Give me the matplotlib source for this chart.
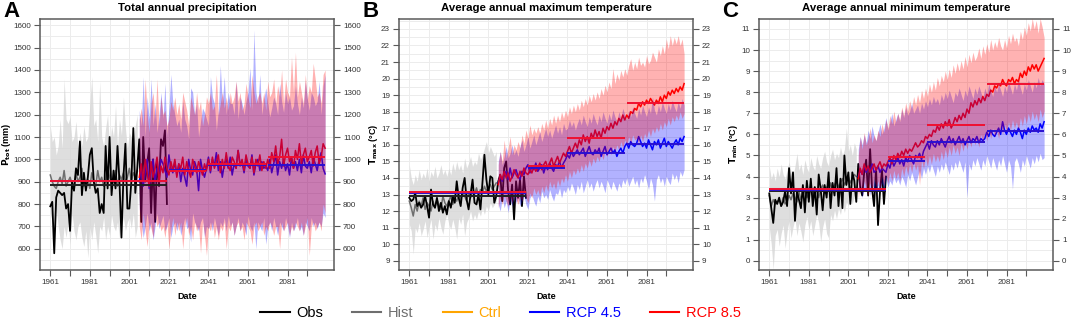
import matplotlib.pyplot as plt
from matplotlib.lines import Line2D
from matplotlib.ticker import MultipleLocator

plt.rcParams['font.family'] = ['Liberation Sans', 'DejaVu Sans']

obs_years = list(range(1961, 2021))
hist_years = list(range(1961, 2006))
rcp_years = list(range(2006, 2101))
periods = [(1961, 2020), (2021, 2040), (2041, 2070), (2071, 2100)]

# ---------------- A: total annual precipitation (mm) ----------------
ptot_obs = [790, 810, 580, 830, 860, 850, 840, 850, 780, 800,
            680, 900, 860, 960, 930, 1080, 840, 940, 860, 920,
            1020, 1050, 900, 850, 870, 760, 800, 760, 1060, 870,
            1100, 840, 950, 870, 1060, 900, 650, 920, 1070, 780,
            780, 900, 1140, 850, 960, 1090, 720, 1100, 900, 980,
            1050, 760, 1000, 720, 1000, 880, 1090, 1060, 1130, 800]
ptot_hist = [930, 900, 880, 870, 900, 920, 890, 950, 880, 900,
             920, 890, 860, 940, 900, 920, 960, 880, 900, 910,
             870, 940, 900, 880, 950, 900, 920, 880, 900, 960,
             920, 890, 900, 950, 880, 930, 910, 940, 900, 920,
             960, 900, 940, 920, 950]
ptot_hist_lo = [760, 720, 650, 780, 700, 640, 600, 700, 650, 720,
                620, 760, 680, 640, 700, 720, 650, 610, 680, 560,
                700, 640, 720, 660, 580, 700, 680, 740, 640, 700,
                660, 750, 700, 680, 720, 650, 700, 740, 680, 720,
                740, 690, 760, 650, 700]
ptot_hist_hi = [1150, 1080, 1100, 1020, 1060, 1180, 1050, 1360, 1180, 1160,
                1190, 1080, 1100, 1170, 1050, 1120, 1060, 1150, 1080, 1100,
                1250, 1370, 1150, 1180, 1080, 1350, 1100, 1060, 1140, 1200,
                1050, 1150, 1100, 1240, 1060, 1180, 1110, 1280, 1140, 1050,
                1120, 1100, 1090, 1150, 1200]
ptot_rcp45 = [900, 960, 880, 940, 1000, 870, 950, 1000, 900, 960,
              940, 1000, 980, 950, 920, 1020, 960, 940, 990, 930,
              980, 900, 960, 920, 880, 1000, 950, 930, 990, 960,
              860, 1000, 950, 920, 960, 1010, 940, 1000, 970, 1030,
              950, 990, 920, 980, 1000, 960, 1010, 930, 980, 960,
              1040, 980, 990, 940, 1000, 970, 960, 1020, 930, 980,
              1000, 950, 990, 960, 970, 950, 1000, 940, 980, 1020,
              930, 990, 960, 1000, 950, 980, 930, 1010, 960, 990,
              950, 1000, 940, 1020, 970, 960, 990, 940, 1010, 980,
              950, 1000, 1030, 960, 935]
ptot_rcp85 = [920, 980, 900, 1000, 940, 880, 990, 920, 960, 1010,
              900, 970, 940, 1010, 960, 930, 990, 950, 1000, 920,
              980, 960, 1010, 930, 990, 950, 920, 1000, 970, 940,
              990, 960, 930, 980, 950, 1000, 950, 1010, 960, 990,
              1020, 940, 1000, 960, 1030, 970, 950, 1010, 990, 960,
              1040, 970, 1000, 950, 1020, 980, 960, 1010, 940, 1000,
              970, 1020, 950, 990, 960, 1000, 960, 1030, 990, 1060,
              980, 1010, 1090, 970, 1020, 1050, 990, 1010, 960, 1040,
              1000, 1070, 980, 1020, 1050, 990, 1010, 1040, 970, 1030,
              1060, 980, 1010, 1070, 1050]
ptot_rcp45_lo = [780, 720, 650, 700, 760, 680, 720, 640, 700, 760,
                 690, 720, 750, 680, 700, 740, 650, 700, 720, 680,
                 720, 660, 700, 740, 690, 700, 630, 760, 720, 700,
                 680, 720, 740, 650, 700, 690, 720, 680, 740, 700,
                 660, 720, 700, 740, 680, 750, 700, 720, 660, 700,
                 740, 680, 720, 700, 660, 750, 700, 680, 720, 600,
                 720, 700, 680, 740, 620, 700, 720, 680, 740, 700,
                 660, 720, 700, 680, 740, 700, 650, 720, 680, 700,
                 740, 680, 700, 660, 720, 700, 680, 740, 700, 720,
                 690, 720, 700, 760, 740]
ptot_rcp45_hi = [1220, 1150, 1370, 1100, 1280, 1180, 1360, 1150, 1250, 1120,
                 1200, 1300, 1180, 1340, 1110, 1230, 1380, 1250, 1200, 1150,
                 1180, 1120, 1260, 1180, 1150, 1090, 1320, 1300, 1200, 1250,
                 1100, 1170, 1230, 1210, 1180, 1150, 1370, 1280, 1250, 1130,
                 1220, 1420, 1250, 1370, 1200, 1300, 1250, 1250, 1200, 1350,
                 1180, 1280, 1250, 1200, 1260, 1300, 1410, 1220, 1580, 1300,
                 1250, 1380, 1200, 1270, 1320, 1250, 1190, 1230, 1280, 1250,
                 1200, 1340, 1260, 1210, 1300, 1250, 1280, 1220, 1240, 1330,
                 1250, 1200, 1280, 1230, 1350, 1270, 1220, 1300, 1280, 1240,
                 1260, 1350, 1200, 1330, 1380]
ptot_rcp85_lo = [700, 640, 760, 680, 610, 720, 690, 650, 740, 700,
                 720, 680, 700, 650, 720, 600, 690, 740, 660, 720,
                 680, 720, 600, 700, 740, 660, 700, 640, 720, 680,
                 700, 580, 720, 660, 570, 700, 680, 720, 650, 700,
                 640, 700, 680, 720, 600, 700, 680, 720, 660, 700,
                 720, 680, 700, 640, 720, 700, 680, 620, 700, 720,
                 680, 700, 720, 660, 700, 680, 720, 700, 660, 700,
                 700, 600, 720, 680, 700, 720, 660, 700, 680, 720,
                 700, 680, 720, 660, 700, 740, 570, 700, 720, 680,
                 700, 720, 680, 800, 760]
ptot_rcp85_hi = [1180, 1230, 1150, 1360, 1200, 1120, 1250, 1300, 1180, 1360,
                 1150, 1280, 1200, 1220, 1150, 1180, 1260, 1220, 1280, 1200,
                 1250, 1180, 1300, 1260, 1220, 1150, 1280, 1240, 1200, 1300,
                 1220, 1260, 1150, 1200, 1280, 1250, 1300, 1220, 1240, 1380,
                 1200, 1250, 1300, 1230, 1280, 1220, 1300, 1250, 1280, 1350,
                 1260, 1300, 1220, 1250, 1340, 1280, 1230, 1380, 1300, 1250,
                 1280, 1300, 1250, 1300, 1220, 1350, 1280, 1300, 1360, 1250,
                 1330, 1280, 1400, 1250, 1360, 1300, 1280, 1460, 1300, 1480,
                 1280, 1350, 1300, 1250, 1380, 1270, 1330, 1300, 1430, 1360,
                 1280, 1300, 1250, 1380, 1400]
ptot_obs_mean = 887
ptot_rcp45_means = [905, 953, 973, 975]
ptot_rcp85_means = [905, 950, 978, 1010]

# ---------------- B: average annual maximum temperature (°C) ----------------
tmax_obs = [12.8, 12.6, 12.7, 13.1, 12.3, 12.5, 12.2, 12.4, 12.9, 12.3,
            11.6, 13.3, 12.4, 12.2, 12.8, 12.0, 12.5, 11.9, 12.3, 11.8,
            12.6, 12.2, 12.9, 12.5, 13.8, 12.8, 12.3, 13.4, 14.0, 12.7,
            12.1, 13.0, 13.9, 12.5, 12.4, 13.0, 12.1, 13.7, 15.4, 13.9,
            13.0, 14.1, 14.0, 12.5, 12.9, 13.8, 14.2, 12.6, 14.6, 15.0,
            13.2, 12.4, 13.6, 11.5, 13.8, 12.8, 13.9, 12.3, 14.1, 12.8]
tmax_hist = [12.6, 12.2, 11.7, 12.4, 12.0, 12.6, 12.3, 12.8, 12.1, 12.5,
             12.3, 12.0, 12.6, 12.2, 12.7, 12.4, 12.1, 12.9, 12.5, 12.3,
             12.6, 12.9, 12.4, 12.8, 12.6, 13.0, 12.7, 13.2, 12.9, 12.6,
             13.1, 12.8, 13.2, 13.0, 13.4, 12.9, 13.3, 13.1, 13.5, 13.2,
             13.4, 13.6, 13.3, 13.5, 13.7]
tmax_hist_lo = [11.2, 10.8, 9.4, 11.0, 10.7, 11.3, 10.5, 10.9, 11.4, 10.4,
                11.0, 11.5, 10.3, 11.2, 10.8, 11.6, 11.0, 10.6, 11.4, 11.8,
                11.2, 10.9, 11.5, 11.0, 10.3, 11.6, 11.2, 11.8, 10.5, 11.3,
                11.6, 12.0, 11.4, 11.8, 11.5, 12.0, 11.7, 12.2, 11.8, 12.3,
                12.0, 12.5, 12.2, 12.4, 12.6]
tmax_hist_hi = [14.8, 14.0, 13.6, 14.2, 13.8, 14.5, 13.9, 14.3, 14.0, 14.6,
                13.8, 14.4, 14.1, 14.7, 14.0, 14.3, 14.8, 14.2, 14.5, 14.1,
                14.6, 14.2, 14.9, 14.4, 15.0, 14.5, 14.8, 14.3, 15.2, 14.6,
                14.9, 15.3, 14.7, 15.0, 14.8, 15.5, 15.1, 15.4, 15.8, 16.2,
                15.5, 15.9, 15.6, 15.3, 15.6]
tmax_rcp45 = [13.7, 14.1, 13.8, 14.2, 14.4, 13.9, 14.6, 14.0, 14.3, 14.5,
              14.1, 13.9, 14.4, 14.2, 14.6, 14.8, 14.3, 14.7, 14.5, 14.9,
              14.4, 14.6, 14.8, 14.3, 14.7, 14.5, 14.9, 14.6, 14.4, 14.8,
              14.7, 15.0, 14.6, 14.9, 15.1, 15.4, 15.2, 15.6, 15.3, 15.5,
              15.7, 15.4, 15.6, 15.8, 15.3, 15.6, 15.9, 15.5, 15.4, 15.7,
              15.5, 15.8, 15.3, 15.6, 15.9, 15.4, 15.6, 15.8, 15.5, 15.7,
              15.3, 15.6, 15.8, 15.5, 15.9, 16.1, 15.8, 16.2, 16.0, 15.9,
              16.1, 16.5, 16.2, 15.9, 16.1, 15.8, 16.3, 16.0, 15.7, 16.2,
              16.0, 16.3, 15.8, 16.1, 16.4, 15.9, 16.2, 16.0, 15.8, 16.1,
              16.3, 16.0, 16.4, 16.2, 16.5]
tmax_rcp85 = [13.6, 14.2, 13.9, 14.4, 14.0, 14.3, 13.8, 14.1, 14.5, 14.2,
              14.0, 14.4, 14.1, 14.6, 14.3, 14.2, 14.5, 14.3, 14.7, 14.4,
              14.6, 14.9, 14.5, 14.8, 15.0, 14.6, 14.9, 15.2, 14.7, 15.0,
              15.3, 14.9, 15.2, 15.5, 15.3, 15.6, 15.9, 15.5, 15.8, 16.1,
              15.8, 16.3, 16.0, 16.6, 16.2, 16.5, 16.1, 16.7, 16.4, 16.9,
              16.5, 16.8, 16.4, 17.0, 16.7, 17.1, 16.9, 17.3, 17.0, 17.4,
              17.2, 17.6, 17.4, 17.8, 17.5, 17.8, 17.6, 18.0, 17.9, 18.2,
              18.1, 18.5, 18.3, 18.6, 18.4, 18.7, 18.5, 18.8, 18.6, 18.4,
              18.7, 18.5, 18.9, 18.6, 19.0, 18.8, 19.2, 19.0, 19.3, 19.1,
              19.4, 19.2, 19.5, 19.3, 19.7]
tmax_rcp45_lo = [12.4, 12.0, 12.8, 12.2, 12.6, 11.9, 12.7, 12.3, 12.9, 12.5,
                 12.8, 12.3, 12.6, 12.9, 12.4, 12.1, 12.8, 13.0, 12.6, 12.3,
                 12.9, 12.5, 13.2, 12.8, 13.0, 12.7, 13.3, 12.9, 12.6, 13.1,
                 13.0, 13.4, 12.8, 13.3, 13.1, 13.5, 13.2, 13.7, 13.4, 13.0,
                 13.6, 13.3, 13.8, 13.1, 13.5, 13.9, 13.4, 13.7, 13.2, 13.6,
                 13.9, 13.4, 13.8, 13.5, 13.1, 13.9, 13.6, 13.3, 13.8, 13.5,
                 13.2, 13.7, 13.4, 13.9, 13.6, 14.0, 13.5, 13.8, 14.1, 13.6,
                 13.9, 13.4, 14.0, 13.7, 14.2, 13.8, 13.3, 14.0, 13.6, 12.6,
                 13.9, 14.2, 13.7, 14.0, 13.5, 14.1, 13.8, 13.6, 14.3, 13.9,
                 14.2, 13.7, 14.4, 14.1, 14.5]
tmax_rcp45_hi = [15.0, 15.6, 14.8, 15.3, 15.9, 15.2, 15.5, 16.0, 15.4, 15.7,
                 15.3, 15.9, 16.3, 15.6, 16.0, 16.5, 15.8, 16.2, 16.6, 16.0,
                 16.4, 16.8, 16.2, 16.6, 17.0, 16.5, 16.9, 16.4, 16.8, 17.2,
                 16.7, 17.1, 16.6, 17.3, 16.9, 17.0, 17.5, 17.1, 17.4, 16.9,
                 17.3, 17.6, 17.2, 17.8, 17.4, 17.1, 17.7, 17.3, 17.9, 17.5,
                 17.2, 17.8, 17.4, 18.0, 17.6, 17.3, 17.9, 17.5, 18.1, 17.7,
                 17.4, 18.0, 17.6, 18.2, 17.8, 17.5, 18.1, 17.7, 18.3, 17.9,
                 17.6, 18.2, 17.8, 18.4, 18.0, 17.7, 18.3, 17.9, 18.9, 18.1,
                 17.8, 18.4, 18.0, 18.6, 18.2, 17.9, 18.5, 18.1, 18.7, 18.3,
                 18.0, 18.6, 18.2, 18.8, 18.4]
tmax_rcp85_lo = [12.2, 12.8, 12.4, 13.0, 12.6, 12.3, 12.9, 12.5, 13.1, 12.7,
                 12.4, 12.9, 12.6, 13.2, 12.8, 12.5, 13.1, 12.8, 13.4, 13.0,
                 13.3, 12.9, 13.5, 13.1, 13.6, 13.2, 13.8, 13.4, 13.7, 13.3,
                 13.9, 13.5, 14.0, 13.7, 14.2, 13.8, 14.4, 14.0, 14.5, 14.2,
                 14.6, 14.3, 14.8, 14.4, 14.9, 14.6, 15.1, 14.7, 15.2, 14.9,
                 15.3, 15.0, 15.5, 15.1, 15.6, 15.3, 15.8, 15.4, 15.9, 15.6,
                 16.0, 15.7, 16.2, 15.8, 16.3, 16.0, 16.5, 16.1, 16.6, 16.3,
                 16.4, 16.1, 16.6, 16.2, 16.7, 16.4, 16.9, 16.5, 17.0, 16.7,
                 17.1, 16.8, 17.3, 16.9, 17.4, 17.1, 17.6, 17.2, 17.7, 17.4,
                 17.8, 17.5, 18.0, 17.6, 17.9]
tmax_rcp85_hi = [14.8, 15.6, 15.0, 16.3, 15.2, 15.8, 16.5, 15.4, 16.0, 15.7,
                 16.2, 15.8, 16.6, 16.1, 16.9, 16.4, 17.2, 16.6, 17.0, 16.7,
                 17.1, 16.7, 17.3, 16.9, 17.5, 17.0, 17.6, 17.2, 17.8, 17.3,
                 17.8, 17.4, 18.0, 17.6, 18.1, 17.7, 18.3, 17.9, 18.4, 18.0,
                 18.5, 18.1, 18.7, 18.3, 18.8, 18.4, 19.0, 18.6, 19.1, 18.7,
                 19.2, 18.8, 19.4, 19.0, 19.6, 19.2, 19.8, 19.4, 20.6, 19.7,
                 20.3, 19.9, 20.5, 20.1, 20.6, 20.2, 20.8, 21.2, 20.5, 21.0,
                 20.6, 21.3, 20.8, 21.0, 20.7, 21.4, 20.9, 21.1, 21.6, 21.3,
                 21.0, 21.8, 21.4, 22.0, 21.5, 22.4, 21.8, 22.6, 22.0, 22.5,
                 22.1, 22.6, 22.0, 22.4, 21.5]
tmax_obs_mean = 12.9
tmax_rcp45_means = [13.1, 14.62, 15.52, 16.08]
tmax_rcp85_means = [13.15, 14.7, 16.4, 18.55]

# ---------------- C: average annual minimum temperature (°C) ----------------
tmin_obs = [3.2, 2.5, 1.8, 2.9, 2.7, 3.0, 2.6, 2.8, 3.3, 2.6,
            4.4, 3.2, 4.2, 1.9, 3.3, 2.9, 2.5, 3.6, 2.3, 3.8,
            2.8, 3.9, 2.6, 3.5, 2.2, 4.1, 3.4, 2.4, 3.6, 3.0,
            4.2, 2.5, 3.7, 3.1, 4.4, 2.6, 3.9, 2.5, 5.0, 3.6,
            4.2, 2.7, 4.2, 3.8, 2.8, 4.6, 3.5, 3.1, 4.2, 4.8,
            3.1, 5.3, 3.4, 2.6, 4.4, 1.7, 3.3, 4.3, 2.7, 4.0]
tmin_hist = [3.1, 2.6, 2.9, 2.7, 2.8, 2.9, 2.6, 3.0, 2.7, 2.8,
             3.1, 2.9, 3.2, 3.0, 2.8, 3.3, 2.9, 3.1, 3.4, 3.0,
             3.2, 3.4, 3.1, 3.5, 3.3, 3.0, 3.4, 3.6, 3.2, 3.5,
             3.4, 3.7, 3.3, 3.6, 3.8, 3.5, 3.7, 3.9, 3.6, 3.8,
             4.0, 3.7, 3.9, 4.1, 4.0]
tmin_hist_lo = [1.6, 0.8, -0.4, 1.2, 1.5, 0.7, 1.3, 1.7, 0.6, 1.4,
                1.9, 1.1, 1.6, 2.0, 1.2, 1.8, 1.4, 0.9, 1.7, 2.1,
                1.5, 1.9, 1.2, 1.7, 2.2, 1.8, 0.9, 1.6, 2.0, 1.3,
                1.1, 2.2, 1.9, 2.4, 2.0, 2.5, 2.2, 2.7, 2.3, 2.8,
                2.6, 3.0, 2.7, 3.1, 2.9]
tmin_hist_hi = [4.5, 3.9, 4.2, 3.8, 4.4, 4.0, 4.6, 4.1, 3.9, 4.3,
                4.7, 4.2, 4.0, 4.5, 5.1, 4.3, 4.6, 4.1, 4.8, 4.4,
                4.2, 4.9, 4.5, 4.3, 5.0, 4.6, 4.4, 4.9, 5.2, 4.7,
                4.5, 5.0, 5.3, 4.8, 5.1, 4.9, 5.4, 5.0, 5.3, 6.3,
                5.2, 5.5, 5.0, 5.6, 5.3]
tmin_rcp45 = [4.0, 4.3, 4.1, 4.5, 4.2, 4.4, 4.3, 4.6, 4.2, 4.3,
              4.5, 4.2, 4.4, 4.3, 4.2, 4.6, 4.4, 4.8, 4.5, 4.7,
              4.9, 4.6, 4.8, 4.5, 4.9, 4.7, 5.0, 4.8, 4.6, 5.0,
              4.9, 5.1, 4.8, 5.2, 5.4, 5.6, 5.3, 5.7, 5.5, 5.4,
              5.7, 5.5, 5.8, 5.6, 5.4, 5.7, 5.9, 5.6, 5.8, 5.5,
              5.7, 5.9, 5.6, 5.8, 5.5, 5.7, 5.9, 5.6, 5.8, 5.7,
              5.9, 5.6, 5.8, 5.7, 5.8, 6.1, 5.9, 6.2, 6.0, 5.9,
              6.1, 6.3, 6.0, 6.6, 6.2, 6.0, 6.3, 6.1, 5.9, 6.2,
              6.0, 6.3, 6.1, 5.8, 6.2, 6.0, 6.3, 6.1, 6.4, 6.2,
              6.3, 6.1, 6.5, 6.3, 6.6]
tmin_rcp85 = [3.9, 4.4, 4.1, 4.6, 4.3, 4.5, 4.2, 4.4, 4.6, 4.3,
              4.5, 4.7, 4.4, 4.6, 4.5, 4.7, 4.9, 4.6, 5.0, 4.8,
              5.1, 4.9, 5.2, 5.0, 5.3, 5.1, 5.3, 5.2, 5.4, 5.6,
              5.4, 5.5, 5.7, 5.6, 5.9, 5.8, 6.0, 5.9, 6.2, 6.1,
              6.4, 6.2, 6.5, 6.3, 6.6, 6.4, 6.7, 6.3, 6.5, 6.8,
              6.6, 6.9, 6.7, 7.0, 6.8, 7.2, 7.0, 7.5, 7.3, 7.6,
              7.4, 7.7, 7.5, 7.8, 7.6, 7.9, 7.8, 8.1, 8.0, 8.3,
              8.2, 8.4, 8.3, 8.6, 8.4, 8.3, 8.6, 8.5, 8.7, 8.4,
              8.6, 8.5, 8.9, 8.7, 9.0, 8.8, 9.2, 9.0, 9.3, 9.1,
              9.3, 9.0, 9.2, 9.4, 9.6]
tmin_rcp45_lo = [3.2, 3.6, 3.0, 3.5, 3.3, 3.8, 3.1, 3.6, 3.4, 3.2,
                 3.6, 3.3, 3.7, 3.4, 3.9, 3.5, 3.8, 3.6, 4.0, 3.7,
                 3.9, 3.6, 4.0, 3.8, 3.5, 4.1, 3.8, 4.2, 3.9, 3.6,
                 4.0, 4.3, 3.9, 4.4, 4.1, 4.5, 4.2, 4.6, 4.3, 4.0,
                 4.5, 4.2, 4.6, 4.3, 4.7, 4.4, 4.1, 4.6, 4.3, 4.7,
                 4.4, 4.8, 4.5, 4.2, 4.7, 3.0, 4.6, 4.3, 4.8, 4.5,
                 4.9, 4.6, 4.3, 4.8, 4.5, 5.0, 4.7, 4.4, 4.9, 4.6,
                 4.3, 4.8, 4.5, 5.0, 4.6, 4.2, 4.8, 4.5, 3.4, 4.7,
                 4.9, 4.6, 4.2, 4.8, 4.5, 5.0, 4.7, 4.4, 4.9, 4.6,
                 5.0, 4.7, 5.1, 4.8, 4.9]
tmin_rcp45_hi = [5.3, 5.9, 5.5, 6.0, 5.6, 6.2, 5.8, 6.4, 5.9, 5.7,
                 6.1, 6.5, 6.0, 6.3, 6.8, 6.2, 6.6, 7.0, 6.4, 6.7,
                 7.0, 6.6, 7.2, 6.8, 7.3, 6.9, 7.1, 7.5, 7.0, 7.2,
                 7.4, 7.0, 7.5, 7.2, 7.6, 7.3, 7.7, 7.4, 7.8, 7.5,
                 7.7, 7.4, 7.9, 7.6, 8.0, 7.7, 8.1, 7.8, 7.5, 8.0,
                 7.8, 8.2, 7.9, 7.6, 8.1, 7.8, 8.3, 8.0, 7.7, 8.2,
                 7.9, 8.3, 8.0, 7.7, 8.2, 7.9, 8.4, 8.1, 7.8, 8.3,
                 8.0, 8.4, 8.1, 7.8, 8.3, 8.0, 8.5, 8.2, 7.9, 8.4,
                 8.1, 8.6, 8.2, 7.9, 8.4, 8.1, 8.6, 8.3, 8.0, 8.5,
                 8.2, 8.7, 8.3, 8.6, 8.4]
tmin_rcp85_lo = [3.0, 3.6, 3.2, 3.8, 3.4, 3.1, 3.7, 3.3, 3.9, 3.5,
                 3.8, 3.4, 4.0, 3.6, 4.1, 3.7, 4.2, 3.8, 4.3, 3.9,
                 4.2, 3.8, 4.4, 4.0, 4.5, 4.1, 4.6, 4.2, 4.7, 4.3,
                 4.6, 3.6, 4.8, 4.4, 4.9, 4.5, 5.0, 4.6, 5.1, 4.7,
                 5.0, 4.7, 5.2, 4.8, 5.3, 4.9, 5.4, 5.0, 5.5, 5.1,
                 5.4, 5.0, 5.6, 5.2, 5.7, 5.3, 5.8, 5.4, 5.9, 5.5,
                 5.8, 5.4, 6.0, 5.6, 6.1, 5.7, 6.2, 5.8, 6.3, 5.9,
                 6.2, 5.8, 6.4, 6.0, 6.5, 6.1, 6.6, 6.2, 6.7, 6.3,
                 6.6, 6.2, 6.8, 6.4, 6.9, 6.5, 7.0, 6.6, 7.1, 6.7,
                 7.0, 6.6, 7.2, 6.8, 7.1]
tmin_rcp85_hi = [5.0, 5.9, 5.3, 6.1, 5.5, 5.8, 6.3, 5.6, 6.0, 5.7,
                 6.2, 5.9, 6.5, 6.1, 6.7, 6.3, 6.9, 6.5, 7.1, 6.6,
                 7.0, 6.7, 7.3, 6.9, 7.5, 7.1, 7.6, 7.2, 7.8, 7.4,
                 7.9, 7.5, 8.1, 7.7, 8.2, 7.8, 8.4, 8.0, 8.5, 8.1,
                 8.7, 8.3, 8.8, 8.5, 9.0, 8.6, 9.1, 8.7, 9.3, 8.9,
                 9.4, 9.0, 9.5, 9.1, 9.7, 9.2, 9.8, 9.4, 9.9, 9.5,
                 9.7, 10.1, 9.6, 10.2, 9.8, 10.3, 9.9, 10.5, 10.0, 10.4,
                 10.1, 10.6, 10.2, 10.0, 10.5, 10.1, 10.7, 10.3, 10.8, 10.4,
                 10.6, 10.2, 10.9, 10.5, 11.1, 10.7, 11.3, 10.9, 11.5, 11.0,
                 11.4, 10.8, 11.5, 11.1, 10.6]
tmin_obs_mean = 3.3
tmin_rcp45_means = [3.38, 4.75, 5.65, 6.15]
tmin_rcp85_means = [3.4, 4.92, 6.45, 8.4]

titles = ['Total annual precipitation', 'Average annual maximum temperature',
          'Average annual minimum temperature']
ylabels = [r'$\mathbf{P_{tot}}$ (mm)', r'$\mathbf{T_{max}}$ (°C)', r'$\mathbf{T_{min}}$ (°C)']
letters = ['A', 'B', 'C']
xtick_years = [1961, 1981, 2001, 2021, 2041, 2061, 2081]

panels = [
    dict(obs=ptot_obs, hist=ptot_hist, hist_lo=ptot_hist_lo, hist_hi=ptot_hist_hi,
         r45=ptot_rcp45, r45_lo=ptot_rcp45_lo, r45_hi=ptot_rcp45_hi,
         r85=ptot_rcp85, r85_lo=ptot_rcp85_lo, r85_hi=ptot_rcp85_hi,
         obs_mean=ptot_obs_mean, m45=ptot_rcp45_means, m85=ptot_rcp85_means,
         ylim=(505, 1628), ystep=100, yminor=50),
    dict(obs=tmax_obs, hist=tmax_hist, hist_lo=tmax_hist_lo, hist_hi=tmax_hist_hi,
         r45=tmax_rcp45, r45_lo=tmax_rcp45_lo, r45_hi=tmax_rcp45_hi,
         r85=tmax_rcp85, r85_lo=tmax_rcp85_lo, r85_hi=tmax_rcp85_hi,
         obs_mean=tmax_obs_mean, m45=tmax_rcp45_means, m85=tmax_rcp85_means,
         ylim=(8.44, 23.6), ystep=1, yminor=0.5),
    dict(obs=tmin_obs, hist=tmin_hist, hist_lo=tmin_hist_lo, hist_hi=tmin_hist_hi,
         r45=tmin_rcp45, r45_lo=tmin_rcp45_lo, r45_hi=tmin_rcp45_hi,
         r85=tmin_rcp85, r85_lo=tmin_rcp85_lo, r85_hi=tmin_rcp85_hi,
         obs_mean=tmin_obs_mean, m45=tmin_rcp45_means, m85=tmin_rcp85_means,
         ylim=(-0.43, 11.47), ystep=1, yminor=0.5),
]

W, H = 1072, 323
fig = plt.figure(figsize=(W / 100, H / 100), dpi=100)
lefts = [40, 399, 759]
spine_col = '#5a5a5a'

for i, p in enumerate(panels):
    ax = fig.add_axes([lefts[i] / W, 53 / H, 294 / W, 251 / H])
    ax.fill_between(hist_years, p['hist_lo'], p['hist_hi'], color='#d4d4d4', alpha=0.75, lw=0, zorder=1)
    ax.plot(hist_years, p['hist'], color='#6e6e6e', lw=1.1, zorder=2)
    ax.plot(obs_years, p['obs'], color='black', lw=1.3, zorder=3)
    ax.plot(rcp_years, p['r45'], color='blue', lw=1.1, zorder=3)
    ax.plot(rcp_years, p['r85'], color='red', lw=1.1, zorder=3)
    ax.fill_between(rcp_years, p['r45_lo'], p['r45_hi'], color='blue', alpha=0.3, lw=0, zorder=4)
    ax.fill_between(rcp_years, p['r85_lo'], p['r85_hi'], color='red', alpha=0.3, lw=0, zorder=4)
    ax.hlines(p['obs_mean'], periods[0][0], periods[0][1], color='#202020', lw=1.4, zorder=5)
    for (a, b), m45, m85 in zip(periods, p['m45'], p['m85']):
        ax.hlines(m45, a, b, color='#2a10d0', lw=1.4, zorder=5)
        ax.hlines(m85, a, b, color='#f01030', lw=1.4, zorder=6)

    ax.set_xlim(1955.8, 2104.5)
    ax.set_ylim(*p['ylim'])
    ax.set_xticks(xtick_years)
    ax.set_xticks([y + 10 for y in xtick_years], minor=True)
    ax.yaxis.set_major_locator(MultipleLocator(p['ystep']))
    ax.yaxis.set_minor_locator(MultipleLocator(p['yminor']))
    ax.grid(True, which='both', color='#ececec', lw=0.7, zorder=0)
    ax.set_axisbelow(True)
    ax.tick_params(axis='both', which='both', direction='out', length=4.5, width=0.8,
                   color=spine_col, labelsize=5.8, labelcolor='#333333', pad=2)
    ax.tick_params(axis='y', which='both', right=True, labelright=True)
    ax.tick_params(axis='y', which='minor', length=0)
    ax.tick_params(axis='x', which='minor', labelbottom=False)
    for s in ax.spines.values():
        s.set_color(spine_col)
        s.set_linewidth(1.1)
    ax.set_xlabel('Date', fontsize=6.5, fontweight='bold', labelpad=4)
    ax.set_ylabel(ylabels[i], fontsize=6.5, fontweight='bold', labelpad=0.5)
    ax.set_title(titles[i], fontsize=8.2, fontweight='bold', pad=6)
    fig.text((lefts[i] - 37) / W, 1 - 1 / H, letters[i], fontsize=16, fontweight='bold',
             va='top', ha='left')

legend_labels = ['Obs', 'Hist', 'Ctrl', 'RCP 4.5', 'RCP 8.5']
legend_colors = ['black', '#6e6e6e', 'orange', 'blue', 'red']
handles = [Line2D([], [], color=c, lw=1.5) for c in legend_colors]
fig.legend(handles, legend_labels, loc='center', bbox_to_anchor=(0.467, 0.031), ncol=5,
           frameon=False, fontsize=10.5, labelcolor=legend_colors, handlelength=2.0,
           handletextpad=0.45, columnspacing=2.0, borderpad=0, borderaxespad=0)

fig.savefig('out.png', dpi=100)
